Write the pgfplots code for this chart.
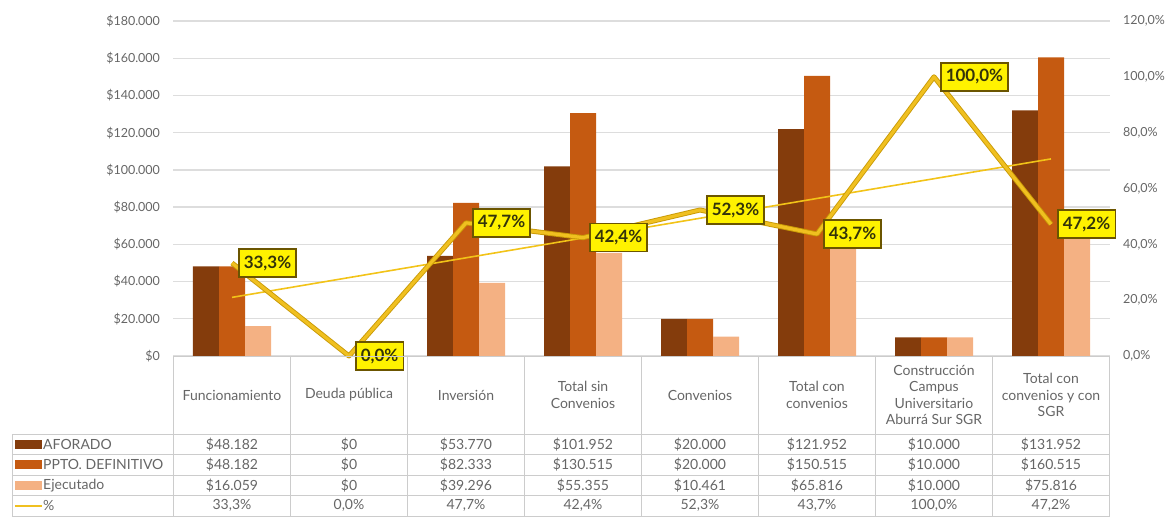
\documentclass[border=0pt]{standalone}
\usepackage{fontspec}
\setmainfont{Lato}
\usepackage{pgfplots}
\pgfplotsset{compat=1.18}

\definecolor{afo}{HTML}{843C0C}
\definecolor{ppto}{HTML}{C55A11}
\definecolor{ejec}{HTML}{F4B183}
\definecolor{gold}{HTML}{F0C020}
\definecolor{golddark}{HTML}{C99A06}
\definecolor{trend}{HTML}{F2C318}
\definecolor{txt}{HTML}{666666}
\definecolor{gridc}{HTML}{DDDDDD}
\definecolor{tabc}{HTML}{CCCCCC}
\definecolor{labborder}{HTML}{6B5500}
\definecolor{labtext}{HTML}{33330A}

\newcommand\tickfont{\fontsize{12.5}{14}\selectfont}
\newcommand\tabfont{\fontsize{14}{16.5}\selectfont}

\begin{document}
\begin{tikzpicture}
\useasboundingbox (-173.5pt,-166pt) rectangle (995.5pt,356pt);

% ---------- bars (left axis) ----------
\begin{axis}[
  scale only axis, width=936pt, height=335pt,
  at={(0pt,0pt)}, anchor=south west,
  xmin=-0.5, xmax=7.5, ymin=0, ymax=180000,
  axis line style={draw=none},
  xtick=\empty,
  ytick={0,20000,...,180000},
  yticklabels={\$0,\$20.000,\$40.000,\$60.000,\$80.000,\$100.000,\$120.000,\$140.000,\$160.000,\$180.000},
  scaled y ticks=false,
  major tick length=0pt,
  yticklabel style={font=\tickfont, text=txt, xshift=-10pt},
  ymajorgrids, grid style={gridc, line width=1.4pt},
  ybar, bar width=26pt,
]
\addplot[fill=afo, draw=none, bar shift=-26pt] coordinates
 {(0,48182) (1,0) (2,53770) (3,101952) (4,20000) (5,121952) (6,10000) (7,131952)};
\addplot[fill=ppto, draw=none, bar shift=0pt] coordinates
 {(0,48182) (1,0) (2,82333) (3,130515) (4,20000) (5,150515) (6,10000) (7,160515)};
\addplot[fill=ejec, draw=none, bar shift=26pt] coordinates
 {(0,16059) (1,0) (2,39296) (3,55355) (4,10461) (5,65816) (6,10000) (7,75816)};
\end{axis}

% ---------- percentage (right axis) ----------
\begin{axis}[
  scale only axis, width=936pt, height=335pt,
  at={(0pt,0pt)}, anchor=south west,
  xmin=-0.5, xmax=7.5, ymin=0, ymax=120,
  axis x line=none,
  axis y line*=right,
  y axis line style={draw=none},
  ytick={0,20,...,120},
  yticklabels={0{,}0\%,20{,}0\%,40{,}0\%,60{,}0\%,80{,}0\%,100{,}0\%,120{,}0\%},
  major tick length=0pt,
  yticklabel style={font=\tickfont, text=txt, anchor=west, xshift=10pt},
  clip=false,
]
% linear trend of the percentage series
\addplot[trend, line width=1.6pt] coordinates {(0,21.0) (7,70.6)};
\addplot[golddark, line width=5pt, line join=round] coordinates
 {(0,33.3) (1,0) (2,47.7) (3,42.4) (4,52.3) (5,43.7) (6,100) (7,47.2)};
\addplot[gold, line width=3.2pt, line join=round] coordinates
 {(0,33.3) (1,0) (2,47.7) (3,42.4) (4,52.3) (5,43.7) (6,100) (7,47.2)};
\addplot[draw=none, mark=none,
  nodes near coords, point meta=explicit symbolic,
  every node near coord/.style={anchor=west, xshift=6pt, fill=yellow, draw=labborder,
     line width=1.5pt, text=labtext, inner xsep=5pt, inner ysep=4pt, minimum height=28pt,
     font=\bfseries\fontsize{17}{17}\selectfont}]
 coordinates {(0,33.3) [33{,}3\%] (1,0) [0{,}0\%] (2,47.7) [47{,}7\%] (3,42.4) [42{,}4\%]
   (4,52.3) [52{,}3\%] (5,43.7) [43{,}7\%] (6,100) [100{,}0\%] (7,47.2) [47{,}2\%]};
\end{axis}

% ---------- data table ----------
\foreach \i in {0,...,8} \draw[tabc, line width=0.8pt] ({\i*117pt},0pt) -- ({\i*117pt},-160pt);
\draw[tabc, line width=0.8pt] (0pt,0pt) -- (936pt,0pt);
\foreach \yy in {-78,-98.5,-119,-139.5,-160}
  \draw[tabc, line width=0.8pt] (-161.5pt,\yy pt) -- (936pt,\yy pt);
\draw[tabc, line width=0.8pt] (-161.5pt,-78pt) -- (-161.5pt,-160pt);

\foreach \t [count=\i from 0] in {Funcionamiento,Deuda pública,Inversión,Total sin\\Convenios,Convenios,Total con\\convenios,Construcción\\Campus\\Universitario\\Aburrá Sur SGR,Total con\\convenios y con\\SGR}
  \node[align=center, text=txt, font=\tabfont, inner sep=0pt] at ({(\i+0.5)*117pt},-39pt) {\t};

\foreach \v [count=\i from 0] in {\$48.182,\$0,\$53.770,\$101.952,\$20.000,\$121.952,\$10.000,\$131.952}
  \node[text=txt, font=\tabfont, inner sep=0pt] at ({(\i+0.5)*117pt},-88.25pt) {\v};
\foreach \v [count=\i from 0] in {\$48.182,\$0,\$82.333,\$130.515,\$20.000,\$150.515,\$10.000,\$160.515}
  \node[text=txt, font=\tabfont, inner sep=0pt] at ({(\i+0.5)*117pt},-108.75pt) {\v};
\foreach \v [count=\i from 0] in {\$16.059,\$0,\$39.296,\$55.355,\$10.461,\$65.816,\$10.000,\$75.816}
  \node[text=txt, font=\tabfont, inner sep=0pt] at ({(\i+0.5)*117pt},-129.25pt) {\v};
\foreach \v [count=\i from 0] in {33{,}3\%,0{,}0\%,47{,}7\%,42{,}4\%,52{,}3\%,43{,}7\%,100{,}0\%,47{,}2\%}
  \node[text=txt, font=\tabfont, inner sep=0pt] at ({(\i+0.5)*117pt},-149.75pt) {\v};

% legend column
\fill[afo]  (-158.5pt,-92.75pt) rectangle (-131.5pt,-83.75pt);
\fill[ppto] (-158.5pt,-113.25pt) rectangle (-131.5pt,-104.25pt);
\fill[ejec] (-158.5pt,-133.75pt) rectangle (-131.5pt,-124.75pt);
\draw[gold, line width=2pt] (-158.5pt,-149.75pt) -- (-131.5pt,-149.75pt);
\node[anchor=west, text=txt, font=\tabfont, inner sep=0pt] at (-130.5pt,-88.25pt) {AFORADO};
\node[anchor=west, text=txt, font=\tabfont, inner sep=0pt] at (-130.5pt,-108.75pt) {PPTO. DEFINITIVO};
\node[anchor=west, text=txt, font=\tabfont, inner sep=0pt] at (-130.5pt,-129.25pt) {Ejecutado};
\node[anchor=west, text=txt, font=\tabfont, inner sep=0pt] at (-130.5pt,-149.75pt) {\%};
\end{tikzpicture}
\end{document}
